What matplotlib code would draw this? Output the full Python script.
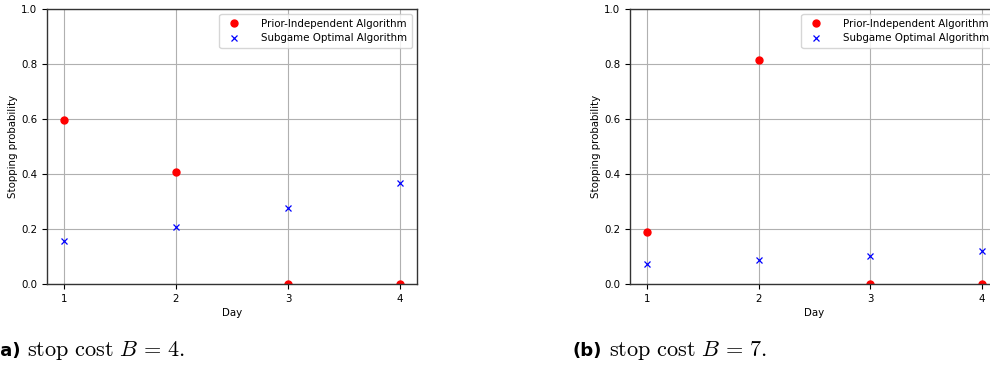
import matplotlib
matplotlib.use("Agg")
import matplotlib.pyplot as plt

plt.rcParams["mathtext.fontset"] = "cm"
plt.rcParams["font.size"] = 7.4

days = [1, 2, 3, 4]

# (a) stop cost B = 4
prior_a = [0.595, 0.406, 0.0, 0.0]
subgame_a = [0.155, 0.206, 0.275, 0.366]

# (b) stop cost B = 7
prior_b = [0.188, 0.813, 0.0, 0.0]
subgame_b = [0.074, 0.087, 0.102, 0.119]

panels = [
    ("(a)", r"$\mathrm{stop\ cost}\ B\,=\,4.$", prior_a, subgame_a),
    ("(b)", r"$\mathrm{stop\ cost}\ B\,=\,7.$", prior_b, subgame_b),
]

fig = plt.figure(figsize=(9.9, 3.68), dpi=100)

ax_rects = [
    [47 / 990, 84 / 368, 370 / 990, 275 / 368],
    [630 / 990, 84 / 368, 369 / 990, 275 / 368],
]
label_x = [(-8 / 990, 27 / 990), (572 / 990, 609 / 990)]

for rect, (tag, caption, prior, subgame), (tx, cx) in zip(ax_rects, panels, label_x):
    ax = fig.add_axes(rect)
    ax.plot(days, prior, "o", color="red", markersize=5, label="Prior-Independent Algorithm")
    ax.plot(days, subgame, "x", color="blue", markersize=5, markeredgewidth=0.9,
            label="Subgame Optimal Algorithm")
    ax.set_ylim(0, 1.0)
    ax.set_xticks(days)
    ax.set_xlabel("Day", labelpad=3)
    ax.set_ylabel("Stopping probability", labelpad=2)
    ax.grid(True, color="#b0b0b0", linewidth=0.8)
    for sp in ax.spines.values():
        sp.set_linewidth(1.0)
        sp.set_color("#333333")
    ax.legend(loc="upper right", fontsize=7.4, handletextpad=1.6, borderpad=0.45,
              labelspacing=0.45, framealpha=0.8)

    fig.text(tx, 17 / 368, tag, fontsize=13, fontweight="bold", ha="left", va="center")
    fig.text(cx, 17 / 368, caption, fontsize=16, ha="left", va="center")

fig.savefig("out.png", dpi=100)
